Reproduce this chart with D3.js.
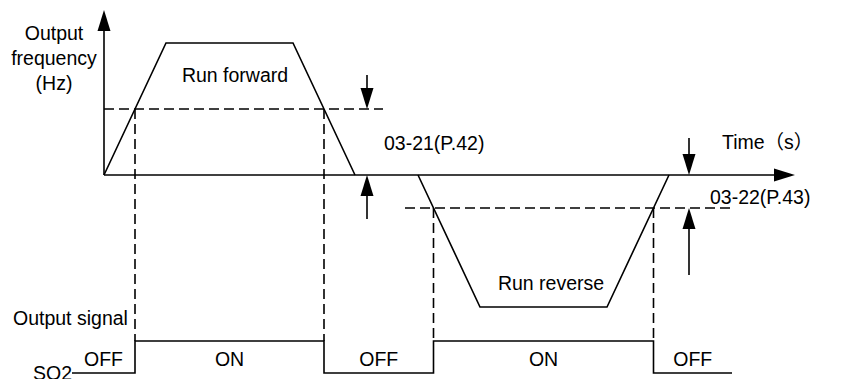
<!DOCTYPE html>
<html>
<head>
<meta charset="utf-8">
<script src="https://cdn.jsdelivr.net/npm/d3@7"></script>
<style>
  body { margin: 0; background: #fff; }
  svg text { font-family: "Liberation Sans", Arial, "Noto Sans CJK SC", sans-serif; font-size: 19.5px; fill: #000; }
</style>
</head>
<body>
<div id="chart"></div>
<script>
// frequency profile (time in s, frequency in Hz)
var fwdTime = [0, 6.2, 18.9, 25.1];
var fwdFreq = [0, 60, 60, 0];
var revTime = [31.4, 37.6, 50.3, 56.5];
var revFreq = [0, -60, -60, 0];
// thresholds 03-21 / 03-22
var fwdLevel = 30;
var revLevel = -15;
// signal states between switch points
var signalStates = ["OFF", "ON", "OFF", "ON", "OFF"];
var signalStart = -3.2, signalEnd = 62.8;

var width = 852, height = 379;
var svg = d3.select("#chart").append("svg")
	.attr("width", width)
	.attr("height", height);

var x = d3.scaleLinear().domain([0, 69.1]).range([104, 795]);
var y = d3.scaleLinear().domain([-60, 60]).range([307, 43]);
var ySig = d3.scaleLinear().domain([0, 1]).range([373, 341]);

var sw = 1.6;

// arrow head helper (tip at x,y pointing dir)
function head(px, py, dir) {
	var L = 21, w = 6.5;
	var pts;
	if (dir == "up") pts = [[px, py], [px - w, py + L], [px + w, py + L]];
	if (dir == "down") pts = [[px, py], [px - w, py - L], [px + w, py - L]];
	if (dir == "right") pts = [[px, py], [px - L, py - w], [px - L, py + w]];
	svg.append("path").attr("d", "M" + pts.join("L") + "Z").attr("fill", "#000");
}

// crossing time of a threshold on a ramp
function cross(t, f, i, level) {
	return t[i] + (level - f[i]) / (f[i + 1] - f[i]) * (t[i + 1] - t[i]);
}
var switches = [
	cross(fwdTime, fwdFreq, 0, fwdLevel),
	cross(fwdTime, fwdFreq, 2, fwdLevel),
	cross(revTime, revFreq, 0, revLevel),
	cross(revTime, revFreq, 2, revLevel)
];
var switchLevel = [fwdLevel, fwdLevel, revLevel, revLevel];

// axes
svg.append("line").attr("x1", x(0)).attr("x2", x(0)).attr("y1", y(0)).attr("y2", 28)
	.attr("stroke", "#000").attr("stroke-width", sw);
head(x(0), 10, "up");
svg.append("line").attr("x1", x(0)).attr("x2", 778).attr("y1", y(0)).attr("y2", y(0))
	.attr("stroke", "#000").attr("stroke-width", sw);
head(x(69.1), y(0), "right");

// threshold dashed lines
svg.append("line").attr("x1", x(0)).attr("x2", x(27.9)).attr("y1", y(fwdLevel)).attr("y2", y(fwdLevel))
	.attr("stroke", "#000").attr("stroke-width", sw).attr("stroke-dasharray", "10,5");
svg.append("line").attr("x1", x(30.1)).attr("x2", x(62.9)).attr("y1", y(revLevel)).attr("y2", y(revLevel))
	.attr("stroke", "#000").attr("stroke-width", sw).attr("stroke-dasharray", "10,5");

// vertical dashed at switch points
svg.selectAll(".vdash").data(switches).enter().append("line")
	.attr("x1", function (d) { return x(d); })
	.attr("x2", function (d) { return x(d); })
	.attr("y1", function (d, i) { return y(switchLevel[i]); })
	.attr("y2", ySig(1))
	.attr("stroke", "#000").attr("stroke-width", sw).attr("stroke-dasharray", "10,5");

// frequency profile
var line = d3.line()
	.x(function (d) { return x(d[0]); })
	.y(function (d) { return y(d[1]); });
svg.append("path").datum(d3.zip(fwdTime, fwdFreq)).attr("d", line)
	.attr("fill", "none").attr("stroke", "#000").attr("stroke-width", sw);
svg.append("path").datum(d3.zip(revTime, revFreq)).attr("d", line)
	.attr("fill", "none").attr("stroke", "#000").attr("stroke-width", sw);

// dimension arrows
var dimX = [26.3, 58.5];
// 03-21
svg.append("line").attr("x1", x(dimX[0])).attr("x2", x(dimX[0])).attr("y1", 75).attr("y2", y(fwdLevel) - 15)
	.attr("stroke", "#000").attr("stroke-width", sw);
head(x(dimX[0]), y(fwdLevel), "down");
svg.append("line").attr("x1", x(dimX[0])).attr("x2", x(dimX[0])).attr("y1", y(0) + 15).attr("y2", 219)
	.attr("stroke", "#000").attr("stroke-width", sw);
head(x(dimX[0]), y(0), "up");
// 03-22
svg.append("line").attr("x1", x(dimX[1])).attr("x2", x(dimX[1])).attr("y1", 138).attr("y2", y(0) - 15)
	.attr("stroke", "#000").attr("stroke-width", sw);
head(x(dimX[1]), y(0), "down");
svg.append("line").attr("x1", x(dimX[1])).attr("x2", x(dimX[1])).attr("y1", y(revLevel) + 15).attr("y2", 275)
	.attr("stroke", "#000").attr("stroke-width", sw);
head(x(dimX[1]), y(revLevel), "up");

// output signal
var edges = [signalStart].concat(switches).concat([signalEnd]);
var sigPts = [];
signalStates.forEach(function (s, i) {
	var v = s == "ON" ? 1 : 0;
	sigPts.push([edges[i], v]);
	sigPts.push([edges[i + 1], v]);
});
svg.append("path").datum(sigPts)
	.attr("d", d3.line().x(function (d) { return x(d[0]); }).y(function (d) { return ySig(d[1]); }))
	.attr("fill", "none").attr("stroke", "#000").attr("stroke-width", sw);
svg.selectAll(".state").data(signalStates).enter().append("text")
	.attr("text-anchor", "middle")
	.attr("x", function (d, i) { return x((edges[i] + edges[i + 1]) / 2); })
	.attr("y", 366)
	.text(function (d) { return d; });

// labels
var yLabel = ["Output", "frequency", "(Hz)"];
svg.selectAll(".ylab").data(yLabel).enter().append("text")
	.attr("text-anchor", "middle")
	.attr("x", 54)
	.attr("y", function (d, i) { return 40 + i * 25; })
	.text(function (d) { return d; });
svg.append("text").attr("x", 722).attr("y", 149).text("Time（s）");
svg.append("text").attr("text-anchor", "middle").attr("x", 235).attr("y", 82).text("Run forward");
svg.append("text").attr("text-anchor", "middle").attr("x", 551).attr("y", 290).text("Run reverse");
svg.append("text").attr("x", 384).attr("y", 150).text("03-21(P.42)");
svg.append("text").attr("x", 710).attr("y", 204).text("03-22(P.43)");
svg.append("text").attr("x", 13).attr("y", 325).text("Output signal");
svg.append("text").attr("text-anchor", "end").attr("x", x(signalStart)).attr("y", 380).text("SO2");
</script>
</body>
</html>
